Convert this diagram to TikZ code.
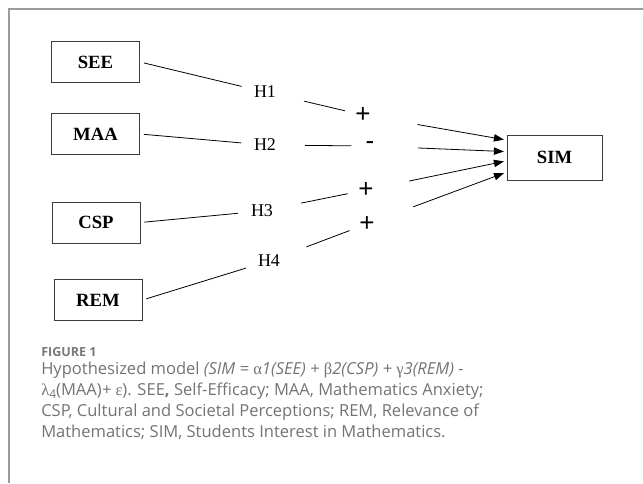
\documentclass[tikz,border=0pt]{standalone}
\usepackage{fontspec}
\setmainfont{Liberation Serif}
\newfontfamily\capfont{Open Sans}
\newfontfamily\signfont{Liberation Sans}
\newfontfamily\greekfont{Liberation Serif}
\usetikzlibrary{arrows.meta,positioning,calc}
\definecolor{framecolor}{RGB}{155,155,155}
\definecolor{captioncolor}{RGB}{115,115,115}
\definecolor{figcolor}{RGB}{120,120,120}
\definecolor{boxcolor}{RGB}{60,60,60}

\begin{document}
\begin{tikzpicture}[x=0.75pt,y=-0.75pt,
    varbox/.style={draw=boxcolor,line width=0.7pt,minimum width=66pt,minimum height=30.75pt,
        inner sep=0pt,font=\fontsize{14}{14}\selectfont\bfseries},
    hyp/.style={inner sep=0pt,font=\fontsize{13.5}{13.5}\selectfont},
    sign/.style={inner sep=0pt,font=\signfont\fontsize{19.5}{19.5}\selectfont},
    link/.style={line width=0.6pt},
    effect/.style={line width=0.6pt,-{Triangle[length=7.5pt,width=5.5pt]},shorten >=2pt}]

    \useasboundingbox (0,0) rectangle (643,483);

    % Outer frame (top and left only)
    \draw[framecolor,line width=1.1pt] (9,483) -- (9,9) -- (643,9);

    % Constructs
    \node[varbox] (see) at (95.5,62) {SEE};
    \node[varbox] (maa) at (95.5,134) {MAA};
    \node[varbox] (csp) at (96,222.5) {CSP};
    \node[varbox] (rem) at (98,300) {REM};
    \node[varbox,minimum width=71.25pt,minimum height=33.75pt] (sim) at (554.5,157.5) {SIM};

    % Hypotheses and signs
    \node[hyp] (h1) at (265,92) {H1};
    \node[hyp] (h2) at (265,145) {H2};
    \node[hyp] (h3) at (262,211) {H3};
    \node[hyp] (h4) at (269,261) {H4};
    \node[sign] (s1) at (363,115) {+};
    \node[sign] (s2) at (370,146) {-};
    \node[sign] (s3) at (366,190) {+};
    \node[sign] (s4) at (367,224) {+};

    % Paths from constructs through hypotheses
    \foreach \v/\h/\s in {see/h1/s1, maa/h2/s2, csp/h3/s3, rem/h4/s4} {
        \draw[link,shorten <=3pt,shorten >=18pt] (\v.east) -- (\h.center);
        \draw[link,shorten <=30pt,shorten >=14pt] (\h.center) -- (\s.center);
    }

    % Effects on SIM
    \draw[effect,shorten <=41.5pt] (s1.center) -- (sim.160.8);
    \draw[effect,shorten <=36pt] (s2.center) -- (sim.173.4);
    \draw[effect,shorten <=33pt] (s3.center) -- (sim.184.2);
    \draw[effect,shorten <=37pt] (s4.center) -- (sim.197);

    % Caption
    \node[anchor=base west,inner sep=0pt,text=figcolor,font=\capfont\bfseries\fontsize{9.4}{9.4}\selectfont]
        (figlabel) at (41,356.5) {FIGURE 1};
    \node[anchor=north west,inner sep=0pt,align=left,text=captioncolor,
        font=\capfont\fontsize{12.4}{15.75}\selectfont] (caption) at (41,362)
        {Hypothesized model {\itshape (SIM = }{\greekfont α}{\itshape 1(SEE) + }{\greekfont β}{\itshape 2(CSP) + }{\greekfont γ}{\itshape 3(REM) -}\\
         {\greekfont λ}\raisebox{-0.35ex}{\fontsize{9}{9}\selectfont 4}(MAA){\itshape +} {\greekfont ε}). SEE\textbf{,} Self-Efficacy; MAA, Mathematics Anxiety;\\
         CSP, Cultural and Societal Perceptions; REM, Relevance of\\
         Mathematics; SIM, Students Interest in Mathematics.};
\end{tikzpicture}
\end{document}
